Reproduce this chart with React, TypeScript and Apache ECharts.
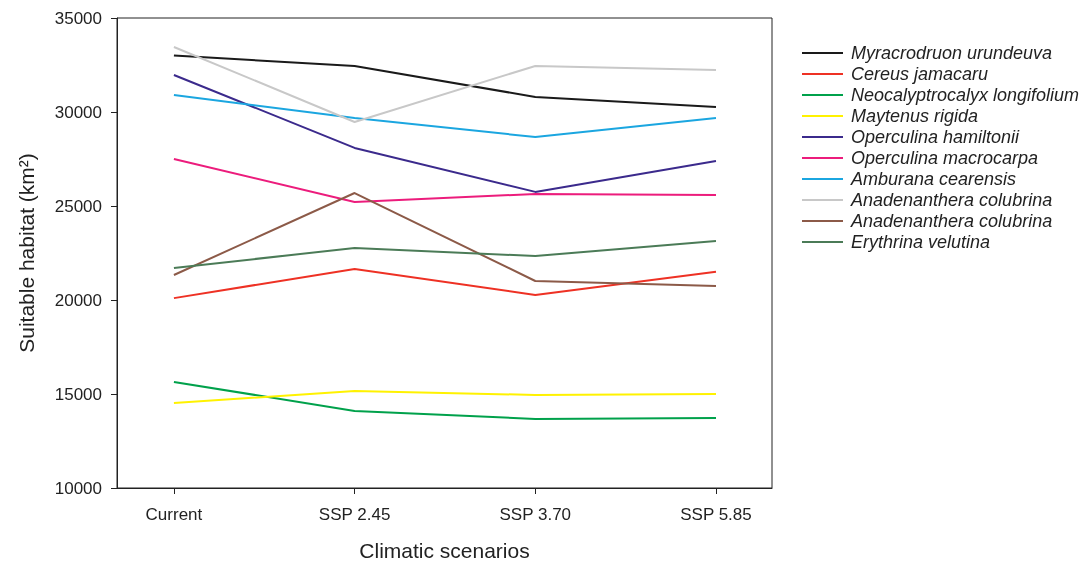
import React, { useEffect, useRef } from "react";
import * as echarts from "echarts";

const scenarios = ["Current", "SSP 2.45", "SSP 3.70", "SSP 5.85"];
const yTicks = [10000, 15000, 20000, 25000, 30000, 35000];

const speciesNames = [
  "Myracrodruon urundeuva",
  "Cereus jamacaru",
  "Neocalyptrocalyx longifolium",
  "Maytenus rigida",
  "Operculina hamiltonii",
  "Operculina macrocarpa",
  "Amburana cearensis",
  "Anadenanthera colubrina",
  "Anadenanthera colubrina#2",
  "Erythrina velutina",
];

const myracrodruon = [33000, 32450, 30800, 30270];
const cereus = [20100, 21650, 20270, 21500];
const neocalyptrocalyx = [15640, 14100, 13670, 13720];
const maytenus = [14520, 15160, 14950, 15000];
const opHamiltonii = [31970, 28090, 25750, 27390];
const opMacrocarpa = [27500, 25210, 25640, 25590];
const amburana = [30900, 29680, 28670, 29680];
const anadenanthera1 = [33460, 29470, 32450, 32230];
const anadenanthera2 = [21330, 25690, 21010, 20750];
const erythrina = [21700, 22770, 22340, 23140];

const seriesValues = [
  myracrodruon,
  cereus,
  neocalyptrocalyx,
  maytenus,
  opHamiltonii,
  opMacrocarpa,
  amburana,
  anadenanthera1,
  anadenanthera2,
  erythrina,
];

const colors = [
  "#1a1a1a",
  "#ee3124",
  "#00a14b",
  "#fff200",
  "#3b2a8c",
  "#ec1c7c",
  "#1ba6e0",
  "#c8c8c8",
  "#8c5a48",
  "#4b7b57",
];

export default function App() {
  const ref = useRef<HTMLDivElement>(null);
  useEffect(() => {
    if (!ref.current) return;
    const chart = echarts.init(ref.current, null, { renderer: "svg" });
    const font = "'Liberation Sans', Arial, sans-serif";
    chart.setOption({
      animation: false,
      textStyle: { fontFamily: font },
      color: colors,
      grid: {
        left: 117,
        right: 314,
        top: 18,
        bottom: 77,
        outerBoundsMode: "none",
        containLabel: false,
        show: true,
        borderColor: "#222",
        borderWidth: 1,
        backgroundColor: "transparent",
      },
      legend: {
        orient: "vertical",
        left: 797,
        top: 39,
        icon: "rect",
        itemWidth: 41,
        itemHeight: 2,
        itemGap: 3,
        formatter: (n: string) => n.replace("#2", ""),
        textStyle: {
          fontFamily: font,
          fontStyle: "italic",
          fontSize: 18,
          lineHeight: 18,
          color: "#222",
          padding: [0, 0, 0, 3],
        },
        data: speciesNames,
      },
      xAxis: {
        type: "value",
        min: -0.315,
        max: 3.31,
        name: "Climatic scenarios",
        nameLocation: "middle",
        nameGap: 52,
        nameTextStyle: { fontSize: 21, color: "#222", fontFamily: font },
        axisLine: { show: true, onZero: false, lineStyle: { color: "#222", width: 1 } },
        axisTick: {
          show: true,
          length: 6,
          customValues: [0, 1, 2, 3],
          lineStyle: { color: "#222" },
        },
        axisLabel: {
          customValues: [0, 1, 2, 3],
          formatter: (v: number) => scenarios[Math.round(v)] ?? "",
          fontSize: 17,
          color: "#222",
          margin: 18,
          fontFamily: font,
        },
        splitLine: { show: false },
      },
      yAxis: {
        type: "value",
        min: 10000,
        max: 35000,
        interval: 5000,
        name: "Suitable habitat (km²)",
        nameLocation: "middle",
        nameGap: 80,
        nameTextStyle: { fontSize: 21, color: "#222", fontFamily: font },
        axisLine: { show: true, onZero: false, lineStyle: { color: "#222", width: 1 } },
        axisTick: { show: true, length: 6, lineStyle: { color: "#222" } },
        axisLabel: {
          fontSize: 17,
          color: "#222",
          margin: 15,
          fontFamily: font,
          formatter: (v: number) => (yTicks.includes(v) ? String(v) : ""),
        },
        splitLine: { show: false },
      },
      series: speciesNames.map((name, i) => ({
        name,
        type: "line",
        data: seriesValues[i].map((v, j) => [j, v]),
        showSymbol: false,
        symbol: "none",
        lineStyle: { width: 2, color: colors[i] },
        itemStyle: { color: colors[i] },
      })),
    });
    return () => chart.dispose();
  }, []);
  return (
    <div
      ref={ref}
      style={{ position: "fixed", left: 0, top: 0, width: 1086, height: 565 }}
    />
  );
}
